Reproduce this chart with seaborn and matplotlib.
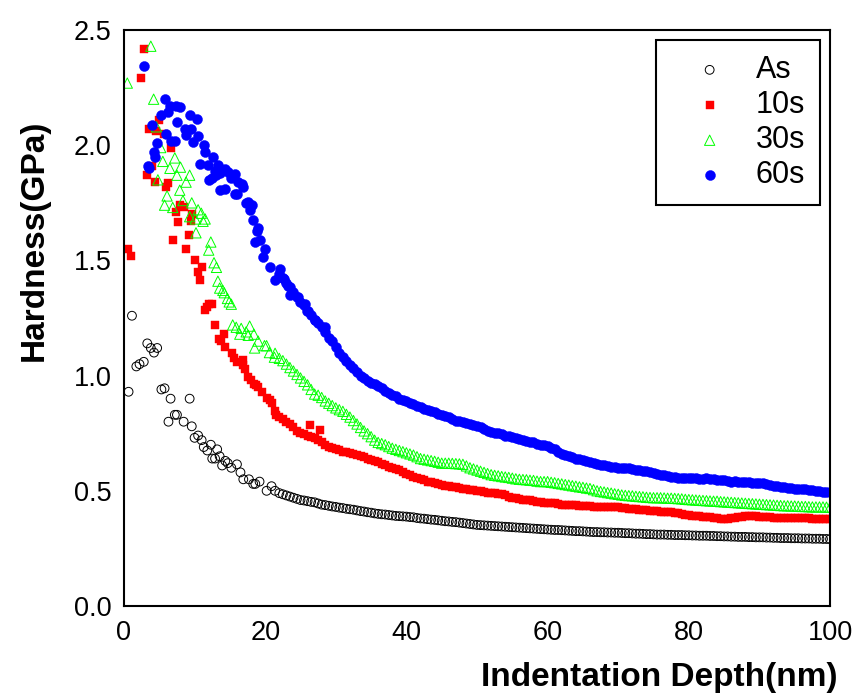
import pandas as pd
import matplotlib.pyplot as plt
import seaborn as sns
from matplotlib.ticker import MultipleLocator

# depth grid for the smooth part of every curve (nm)
tail_depth = [
    22.0, 22.5, 23.0, 23.5, 24.0, 24.5, 25.0, 25.5, 26.0, 26.5,
    27.0, 27.5, 28.0, 28.5, 29.0, 29.5, 30.0, 30.5, 31.0, 31.5,
    32.0, 32.5, 33.0, 33.5, 34.0, 34.5, 35.0, 35.5, 36.0, 36.5,
    37.0, 37.5, 38.0, 38.5, 39.0, 39.5, 40.0, 40.5, 41.0, 41.5,
    42.0, 42.5, 43.0, 43.5, 44.0, 44.5, 45.0, 45.5, 46.0, 46.5,
    47.0, 47.5, 48.0, 48.5, 49.0, 49.5, 50.0, 50.5, 51.0, 51.5,
    52.0, 52.5, 53.0, 53.5, 54.0, 54.5, 55.0, 55.5, 56.0, 56.5,
    57.0, 57.5, 58.0, 58.5, 59.0, 59.5, 60.0, 60.5, 61.0, 61.5,
    62.0, 62.5, 63.0, 63.5, 64.0, 64.5, 65.0, 65.5, 66.0, 66.5,
    67.0, 67.5, 68.0, 68.5, 69.0, 69.5, 70.0, 70.5, 71.0, 71.5,
    72.0, 72.5, 73.0, 73.5, 74.0, 74.5, 75.0, 75.5, 76.0, 76.5,
    77.0, 77.5, 78.0, 78.5, 79.0, 79.5, 80.0, 80.5, 81.0, 81.5,
    82.0, 82.5, 83.0, 83.5, 84.0, 84.5, 85.0, 85.5, 86.0, 86.5,
    87.0, 87.5, 88.0, 88.5, 89.0, 89.5, 90.0, 90.5, 91.0, 91.5,
    92.0, 92.5, 93.0, 93.5, 94.0, 94.5, 95.0, 95.5, 96.0, 96.5,
    97.0, 97.5, 98.0, 98.5, 99.0, 99.5, 100.0,
]

# --- As ---
as_depth_start = [0.65, 1.13, 1.75, 2.2, 2.8, 3.3, 3.8, 4.25, 4.7, 5.3,
                  5.75, 6.3, 6.6, 7.2, 7.5, 8.45, 9.3, 9.6, 10.0, 10.5,
                  11.0, 11.3, 11.8, 12.3, 12.5, 12.9, 13.2, 13.55, 13.9, 14.35,
                  14.7, 15.2, 16.0, 16.5, 16.9, 17.7, 18.3, 18.6, 19.2, 20.2,
                  20.9, 21.4]
as_hard_start = [0.93, 1.26, 1.04, 1.05, 1.06, 1.14, 1.12, 1.10, 1.12, 0.94,
                 0.945, 0.80, 0.90, 0.83, 0.83, 0.80, 0.90, 0.78, 0.73, 0.74,
                 0.72, 0.69, 0.675, 0.70, 0.64, 0.64, 0.68, 0.65, 0.61, 0.63,
                 0.62, 0.60, 0.615, 0.58, 0.55, 0.55, 0.53, 0.53, 0.54, 0.50,
                 0.52, 0.50]
as_hard_tail = [
    0.49, 0.485, 0.48, 0.475, 0.47, 0.465, 0.46, 0.458, 0.455, 0.452,
    0.45, 0.445, 0.44, 0.438, 0.435, 0.432, 0.43, 0.427, 0.425, 0.422,
    0.42, 0.418, 0.415, 0.412, 0.41, 0.407, 0.405, 0.402, 0.40, 0.398,
    0.397, 0.395, 0.393, 0.391, 0.39, 0.389, 0.388, 0.386, 0.385, 0.382,
    0.38, 0.379, 0.377, 0.375, 0.374, 0.372, 0.37, 0.368, 0.367, 0.365,
    0.364, 0.362, 0.36, 0.358, 0.356, 0.354, 0.352, 0.351, 0.35, 0.349,
    0.348, 0.347, 0.346, 0.345, 0.344, 0.343, 0.342, 0.341, 0.34, 0.339,
    0.338, 0.337, 0.336, 0.335, 0.334, 0.333, 0.332, 0.331, 0.33, 0.33,
    0.329, 0.328, 0.327, 0.326, 0.325, 0.325, 0.324, 0.323, 0.322, 0.321,
    0.321, 0.32, 0.32, 0.319, 0.319, 0.318, 0.318, 0.317, 0.316, 0.316,
    0.315, 0.314, 0.314, 0.313, 0.312, 0.312, 0.311, 0.31, 0.31, 0.31,
    0.309, 0.309, 0.308, 0.308, 0.308, 0.307, 0.307, 0.306, 0.306, 0.305,
    0.305, 0.305, 0.304, 0.304, 0.303, 0.303, 0.302, 0.302, 0.301, 0.301,
    0.30, 0.30, 0.30, 0.299, 0.299, 0.298, 0.298, 0.298, 0.297, 0.297,
    0.296, 0.296, 0.295, 0.295, 0.295, 0.294, 0.294, 0.294, 0.293, 0.293,
    0.293, 0.292, 0.292, 0.292, 0.291, 0.291, 0.29,
]

# --- 10s ---
s10_depth_start = [0.57, 0.95, 2.45, 2.8, 3.3, 3.6, 3.9, 4.35, 4.6, 4.9,
                   5.6, 6.0, 6.2, 6.6, 7.0, 7.3, 7.65, 7.9, 8.5, 8.8,
                   9.2, 9.45, 9.6, 10.1, 10.5, 10.8, 11.0, 11.5, 11.7, 12.1,
                   12.5, 12.9, 13.4, 13.8, 14.2, 14.3, 15.25, 15.6, 16.0, 16.9,
                   16.9, 17.2, 17.6, 18.0, 18.4, 18.7, 19.0, 19.5, 20.2, 20.7,
                   20.9, 21.4, 21.6, 26.3, 27.8]
s10_hard_start = [1.55, 1.52, 2.29, 2.42, 1.87, 2.07, 1.91, 1.84, 2.06, 2.11,
                  2.05, 1.82, 1.835, 1.99, 1.59, 1.71, 1.665, 1.74, 1.73, 1.55,
                  1.61, 1.67, 1.70, 1.50, 1.45, 1.415, 1.47, 1.285, 1.30, 1.31,
                  1.31, 1.22, 1.16, 1.15, 1.18, 1.125, 1.10, 1.075, 1.06, 1.07,
                  1.045, 1.03, 0.995, 0.98, 0.965, 0.96, 0.95, 0.93, 0.905, 0.895,
                  0.88, 0.845, 0.83, 0.785, 0.765]
s10_hard_tail = [
    0.82, 0.81, 0.80, 0.79, 0.775, 0.76, 0.75, 0.745, 0.74, 0.735,
    0.73, 0.72, 0.71, 0.70, 0.69, 0.685, 0.68, 0.675, 0.67, 0.668,
    0.665, 0.66, 0.655, 0.65, 0.645, 0.64, 0.635, 0.63, 0.625, 0.618,
    0.61, 0.605, 0.60, 0.595, 0.59, 0.582, 0.575, 0.568, 0.56, 0.555,
    0.55, 0.545, 0.54, 0.538, 0.535, 0.53, 0.525, 0.522, 0.52, 0.518,
    0.515, 0.512, 0.51, 0.508, 0.505, 0.502, 0.50, 0.498, 0.495, 0.492,
    0.49, 0.49, 0.488, 0.484, 0.48, 0.475, 0.47, 0.468, 0.465, 0.462,
    0.46, 0.458, 0.455, 0.452, 0.45, 0.449, 0.448, 0.446, 0.445, 0.442,
    0.44, 0.44, 0.44, 0.439, 0.438, 0.436, 0.435, 0.433, 0.432, 0.431,
    0.43, 0.43, 0.43, 0.43, 0.43, 0.429, 0.428, 0.426, 0.425, 0.422,
    0.42, 0.419, 0.418, 0.416, 0.415, 0.414, 0.413, 0.411, 0.41, 0.409,
    0.408, 0.406, 0.405, 0.402, 0.40, 0.397, 0.395, 0.392, 0.39, 0.389,
    0.388, 0.386, 0.385, 0.382, 0.38, 0.379, 0.378, 0.379, 0.38, 0.383,
    0.385, 0.388, 0.39, 0.39, 0.39, 0.389, 0.388, 0.387, 0.386, 0.385,
    0.384, 0.383, 0.382, 0.381, 0.38, 0.38, 0.38, 0.38, 0.38, 0.38,
    0.38, 0.379, 0.378, 0.378, 0.378, 0.377, 0.377,
]

# --- 30s ---
s30_depth_start = [0.47, 3.8, 4.2, 4.6, 4.8, 5.2, 5.5, 5.75, 6.1, 6.5,
                   6.9, 7.2, 7.5, 7.9, 8.0, 8.35, 8.8, 9.3, 9.3, 9.6,
                   10.1, 10.2, 10.5, 10.95, 11.2, 11.5, 12.0, 12.3, 12.75, 13.1,
                   13.3, 13.55, 14.0, 14.2, 14.65, 14.9, 15.2, 15.4, 15.9, 16.4,
                   16.6, 17.3, 17.6, 17.8, 18.4, 18.5, 19.0, 19.9, 20.2, 20.6,
                   21.3, 21.4]
s30_hard_start = [2.27, 2.43, 2.20, 2.08, 1.85, 1.99, 1.93, 1.74, 1.78, 1.90,
                  1.73, 1.945, 1.87, 1.805, 1.905, 1.76, 1.84, 1.87, 1.69, 1.75,
                  1.68, 1.62, 1.72, 1.705, 1.67, 1.68, 1.545, 1.58, 1.49, 1.47,
                  1.41, 1.38, 1.37, 1.36, 1.335, 1.32, 1.31, 1.22, 1.21, 1.18,
                  1.205, 1.19, 1.175, 1.215, 1.18, 1.12, 1.15, 1.13, 1.13, 1.10,
                  1.08, 1.097]
s30_hard_tail = [
    1.075, 1.065, 1.05, 1.035, 1.02, 1.005, 0.99, 0.975, 0.96, 0.94,
    0.92, 0.915, 0.905, 0.89, 0.88, 0.87, 0.86, 0.852, 0.845, 0.832,
    0.82, 0.805, 0.79, 0.775, 0.76, 0.748, 0.735, 0.72, 0.71, 0.705,
    0.70, 0.692, 0.685, 0.68, 0.675, 0.67, 0.665, 0.66, 0.655, 0.648,
    0.64, 0.637, 0.634, 0.631, 0.628, 0.624, 0.62, 0.62, 0.62, 0.619,
    0.618, 0.617, 0.615, 0.608, 0.60, 0.595, 0.59, 0.585, 0.58, 0.575,
    0.57, 0.567, 0.565, 0.562, 0.56, 0.558, 0.555, 0.552, 0.55, 0.549,
    0.548, 0.546, 0.545, 0.542, 0.54, 0.54, 0.54, 0.537, 0.535, 0.532,
    0.53, 0.527, 0.525, 0.522, 0.52, 0.517, 0.515, 0.512, 0.51, 0.505,
    0.50, 0.497, 0.495, 0.492, 0.49, 0.487, 0.485, 0.482, 0.48, 0.479,
    0.478, 0.476, 0.475, 0.474, 0.472, 0.471, 0.47, 0.47, 0.47, 0.469,
    0.468, 0.468, 0.467, 0.466, 0.465, 0.463, 0.462, 0.461, 0.46, 0.459,
    0.458, 0.457, 0.456, 0.455, 0.455, 0.453, 0.452, 0.451, 0.45, 0.449,
    0.448, 0.447, 0.446, 0.445, 0.444, 0.443, 0.442, 0.441, 0.44, 0.439,
    0.438, 0.437, 0.436, 0.435, 0.435, 0.434, 0.434, 0.433, 0.432, 0.432,
    0.431, 0.43, 0.43, 0.43, 0.43, 0.429, 0.429,
]

# --- 60s ---
s60_depth_start = [2.8, 3.45, 3.6, 4.0, 4.25, 4.35, 4.7, 5.2, 5.85, 6.0,
                   6.2, 6.5, 6.7, 7.2, 7.4, 7.55, 8.0, 8.6, 8.8, 9.3,
                   9.45, 9.8, 10.3, 10.5, 10.8, 11.3, 11.5, 11.9, 12.1, 12.4,
                   12.6, 12.85, 13.0, 13.3, 13.55, 13.6, 14.3, 14.3, 14.7, 15.1,
                   15.7, 15.7, 16.0, 16.2, 16.7, 16.9, 17.3, 17.6, 17.85, 18.1,
                   18.3, 18.5, 18.8, 19.0, 19.3, 19.7, 20.0, 20.7, 21.4, 22.1,
                   22.6, 23.3, 23.5, 24.7, 25.6, 25.9, 27.1, 28.5]
s60_hard_start = [2.345, 1.91, 1.90, 2.09, 1.97, 1.95, 2.01, 2.13, 2.20, 2.05,
                  2.145, 2.17, 2.02, 2.02, 2.17, 2.10, 2.165, 2.07, 2.045, 2.13,
                  2.07, 2.015, 2.115, 2.04, 1.92, 2.00, 1.97, 1.915, 1.85, 1.86,
                  1.95, 1.89, 1.87, 1.915, 1.88, 1.805, 1.895, 1.81, 1.885, 1.86,
                  1.875, 1.79, 1.79, 1.84, 1.83, 1.82, 1.75, 1.755, 1.72, 1.74,
                  1.675, 1.58, 1.63, 1.64, 1.59, 1.515, 1.55, 1.47, 1.415, 1.465,
                  1.42, 1.39, 1.35, 1.34, 1.31, 1.28, 1.24, 1.21]
s60_hard_tail = [
    1.44, 1.425, 1.40, 1.385, 1.365, 1.34, 1.32, 1.305, 1.28, 1.265,
    1.24, 1.23, 1.21, 1.19, 1.165, 1.15, 1.125, 1.10, 1.08, 1.065,
    1.045, 1.035, 1.015, 1.00, 0.99, 0.975, 0.97, 0.965, 0.955, 0.945,
    0.935, 0.925, 0.915, 0.91, 0.90, 0.895, 0.89, 0.88, 0.875, 0.87,
    0.865, 0.855, 0.85, 0.845, 0.84, 0.835, 0.83, 0.825, 0.82, 0.81,
    0.805, 0.805, 0.80, 0.795, 0.79, 0.785, 0.78, 0.775, 0.77, 0.76,
    0.755, 0.752, 0.75, 0.745, 0.74, 0.738, 0.735, 0.73, 0.725, 0.72,
    0.715, 0.712, 0.71, 0.705, 0.70, 0.70, 0.695, 0.688, 0.68, 0.67,
    0.66, 0.655, 0.65, 0.645, 0.64, 0.638, 0.635, 0.63, 0.625, 0.62,
    0.615, 0.612, 0.61, 0.608, 0.605, 0.602, 0.60, 0.60, 0.60, 0.597,
    0.595, 0.592, 0.59, 0.588, 0.585, 0.58, 0.578, 0.574, 0.57, 0.567,
    0.565, 0.56, 0.558, 0.556, 0.555, 0.556, 0.555, 0.557, 0.555, 0.553,
    0.552, 0.554, 0.552, 0.55, 0.548, 0.546, 0.545, 0.542, 0.54, 0.541,
    0.54, 0.539, 0.538, 0.537, 0.535, 0.533, 0.532, 0.532, 0.53, 0.526,
    0.522, 0.52, 0.518, 0.516, 0.514, 0.512, 0.51, 0.509, 0.508, 0.506,
    0.505, 0.502, 0.50, 0.498, 0.497, 0.495, 0.497,
]

series_names = ["As", "10s", "30s", "60s"]


def build_frame():
    parts = [
        ("As", as_depth_start, as_hard_start, as_hard_tail),
        ("10s", s10_depth_start, s10_hard_start, s10_hard_tail),
        ("30s", s30_depth_start, s30_hard_start, s30_hard_tail),
        ("60s", s60_depth_start, s60_hard_start, s60_hard_tail),
    ]
    frames = []
    for name, d0, h0, ht in parts:
        frames.append(pd.DataFrame({
            "depth": d0 + tail_depth,
            "hardness": h0 + ht,
            "sample": name,
        }))
    return pd.concat(frames, ignore_index=True)


def plot_hardness(df):
    sns.set_style("white")
    plt.rcParams["font.family"] = ["Liberation Sans", "DejaVu Sans"]
    plt.rcParams["text.color"] = "black"
    plt.rcParams["axes.labelcolor"] = "black"
    plt.rcParams["xtick.color"] = "black"
    plt.rcParams["ytick.color"] = "black"

    fig = plt.figure(figsize=(8.58, 7.0), dpi=100)
    ax = fig.add_axes([0.1445, 0.1343, 0.8229, 0.8227])

    styles = {
        "As": dict(marker="o", s=40, facecolor="none", edgecolor="black", linewidth=0.7),
        "10s": dict(marker="s", s=40, color="#ff0000", edgecolor="#ff0000", linewidth=0.3),
        "30s": dict(marker="^", s=55, facecolor="none", edgecolor="#00ff00", linewidth=0.7),
        "60s": dict(marker="o", s=52, color="#0000ff", edgecolor="#0000ff", linewidth=0.3),
    }
    for name in series_names:
        sub = df[df["sample"] == name]
        sns.scatterplot(data=sub, x="depth", y="hardness", ax=ax, label=name,
                        **styles[name])

    ax.set_xlim(0, 100)
    ax.set_ylim(0, 2.5)
    ax.xaxis.set_major_locator(MultipleLocator(20))
    ax.xaxis.set_minor_locator(MultipleLocator(10))
    ax.yaxis.set_major_locator(MultipleLocator(0.5))
    ax.yaxis.set_minor_locator(MultipleLocator(0.25))
    ax.tick_params(which="both", direction="in", top=False, right=False,
                   width=1.5, color="black", labelcolor="black", labelsize=19.5)
    ax.tick_params(axis="x", which="both", pad=10)
    ax.tick_params(axis="y", which="both", pad=9)
    ax.tick_params(which="major", length=8.5)
    ax.tick_params(which="minor", length=4.5)
    for sp in ax.spines.values():
        sp.set_linewidth(1.5)
        sp.set_color("black")

    ax.set_xlabel("Indentation Depth(nm)", fontsize=24, fontweight="bold",
                  ha="right")
    ax.xaxis.set_label_coords(1.011, -0.098)
    ax.set_ylabel("Hardness(GPa)", fontsize=24, fontweight="bold")
    ax.yaxis.set_label_coords(-0.105, 0.635)

    leg = ax.legend(loc="upper right", bbox_to_anchor=(0.986, 0.983),
                    borderaxespad=0, fancybox=False, edgecolor="black",
                    framealpha=1, fontsize=22, borderpad=0.49,
                    handlelength=2.56, handletextpad=0.23, labelspacing=0.17)
    leg.get_frame().set_linewidth(1.5)

    fig.savefig("out.png", dpi=100)


def main():
    df = build_frame()
    plot_hardness(df)


if __name__ == "__main__":
    main()
